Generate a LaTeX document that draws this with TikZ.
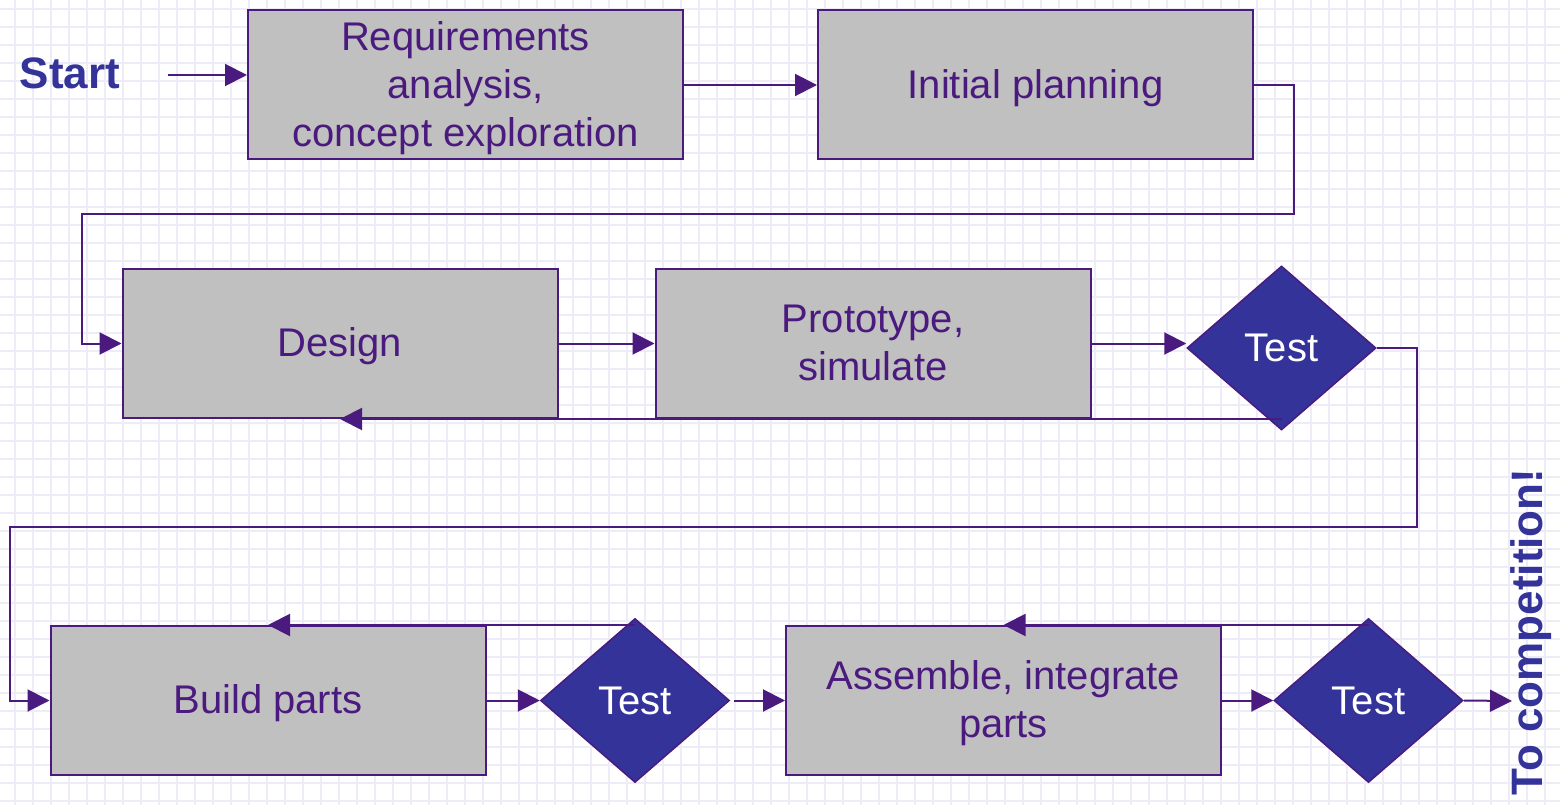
\documentclass[tikz,border=0pt]{standalone}
\usepackage{fontspec}
\setmainfont{Liberation Sans}
\usetikzlibrary{shapes.geometric,arrows.meta}
\definecolor{linec}{HTML}{4B1A7F}
\definecolor{diac}{HTML}{333399}
\definecolor{boxc}{HTML}{C0C0C0}
\definecolor{gridc}{HTML}{EEECF6}
\newcommand\bxtext[1]{\raisebox{-3.7pt}[\height][\depth]{\begin{tabular}{@{}c@{}}#1\end{tabular}}}
\begin{document}
\begin{tikzpicture}[x=1pt,y=-1pt,
  box/.style={draw=linec, line width=2pt, fill=boxc, minimum width=435pt, minimum height=149pt,
    inner sep=0pt, text=linec, align=center, font=\fontsize{40}{48}\selectfont},
  test/.style={diamond, draw=linec, line width=1.5pt, fill=diac, text=white, minimum width=189pt,
    minimum height=164pt, inner sep=0pt, font=\fontsize{40}{48}\selectfont},
  bigtext/.style={text=diac, inner sep=0pt, font=\fontsize{44}{52}\selectfont\bfseries},
  conn/.style={draw=linec, line width=2pt},
  arr/.style={conn, -{Triangle[length=22pt,width=22pt]}}]
\useasboundingbox (0,0) rectangle (1560,805);
\fill[white] (0,0) rectangle (1560,805);
\foreach \k in {0,...,86} \draw[gridc, line width=1.3pt] (15+18*\k,0) -- (15+18*\k,805);
\foreach \k in {0,...,44} \draw[gridc, line width=1.3pt] (0,9+18*\k) -- (1560,9+18*\k);

\node[bigtext] (start) at (70,73) {Start};
\coordinate (s0) at (168,75);
\node[box] (req) at (465.5,85) {\bxtext{Requirements\\analysis,\\concept exploration}};
\node[box] (plan) at (1035.5,85) {\bxtext{Initial planning}};
\node[box] (design) at (340,343.5) {\bxtext{Design}};
\node[box] (proto) at (873,343.5) {\bxtext{Prototype,\\simulate}};
\node[test] (t1) at (1281.5,348) {Test};
\node[box] (build) at (268,700.5) {\bxtext{Build parts}};
\node[test] (t2) at (635,700.5) {Test};
\node[box] (asm) at (1003.5,700.5) {\bxtext{Assemble, integrate\\parts}};
\node[test] (t3) at (1368.5,700.5) {Test};
\node[bigtext, rotate=90] (comp) at (1531,632) {To competition!};
\coordinate (fin) at (1512,701);

\draw[arr] (s0) -- (s0 -| req.west);
\draw[arr] (req.east) -- (plan.west);
\draw[arr] (plan.east) -- ++(40,0) -- ++(0,129) -| ([xshift=-40pt]design.west) -- (design.west);
\draw[arr] (design.east) -- (proto.west);
\draw[arr] (proto.east) -- (proto.east -| t1.west);
\draw[arr] (t1.south |- design.south) -- (design.south);
\draw[arr] (t1.east) -- ++(40,0) -- ++(0,179) -| ([xshift=-40pt]build.west) -- (build.west);
\draw[arr] (build.east) -- (t2.west);
\draw[arr] (t2.north |- build.north) -- (build.north);
\draw[arr] ([xshift=4pt]t2.east) -- (asm.west);
\draw[arr] (t3.north |- asm.north) -- (asm.north);
\draw[arr] (asm.east) -- (t3.west);
\draw[arr] (t3.east) -- (fin);
\end{tikzpicture}
\end{document}
